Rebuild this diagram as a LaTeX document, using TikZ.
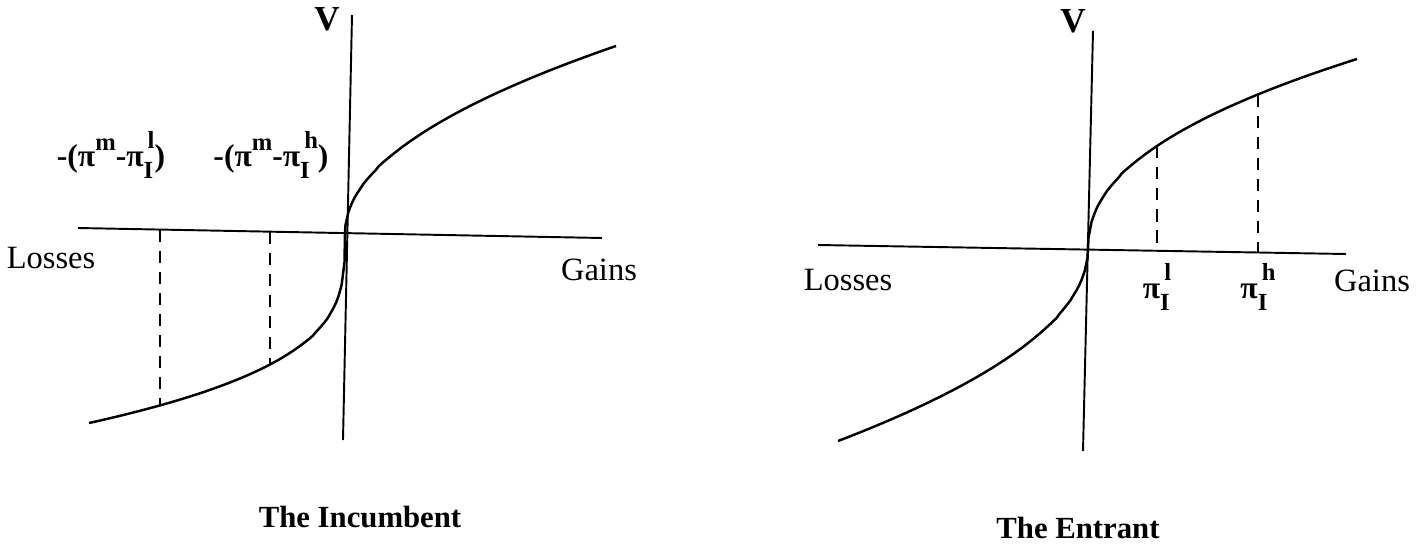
\documentclass[tikz,border=0pt]{standalone}
\usepackage{fontspec}
\setmainfont{Liberation Serif}
\usetikzlibrary{positioning}
\newcommand{\scr}{\fontsize{14}{15}\selectfont}
\newcommand{\piI}[1]{π\rlap{\raisebox{-0.38em}{\scr I}}\raisebox{0.55em}{\scr\,#1}}

\begin{document}
\begin{tikzpicture}[x=0.02cm, y=-0.02cm,
    every node/.style = {inner sep=0pt},
    axis/.style = {line width=1.1pt},
    curve/.style = {line width=1.4pt},
    guide/.style = {line width=0.8pt, dash pattern=on 7pt off 5pt},
    side/.style = {font=\fontsize{18.5}{20}\selectfont},
    vlab/.style = {font=\fontsize{20}{22}\selectfont\bfseries},
    title/.style = {font=\fontsize{17.5}{20}\selectfont\bfseries},
    pilab/.style = {font=\fontsize{18}{20}\selectfont\bfseries}
    ]
    \useasboundingbox (0,0) rectangle (1424,551);

    % The Incumbent
    \coordinate (O1) at (345,233);
    \coordinate (V1top) at (352,15);
    \coordinate (V1bot) at (343,440);
    \coordinate (H1l) at (78,228);
    \coordinate (H1r) at (602,238);
    \draw[axis] (V1top) -- (V1bot);
    \draw[axis] (H1l) -- (H1r);
    \begin{scope}[shift={(O1)}]
      \draw[curve] plot[domain=256:0.5, samples=90] ({-\x}, {190*(\x/256)^0.3})
        -- (0,0) -- plot[domain=0.5:271, samples=90] (\x, {-187*(\x/271)^0.5});
      \coordinate (a1) at (-185,{190*(185/256)^0.3});
      \coordinate (b1) at (-75,{190*(75/256)^0.3});
      \coordinate (a1x) at (-185,-3.4);
      \coordinate (b1x) at (-75,-1.4);
    \end{scope}
    \draw[guide] (a1x) -- (a1);
    \draw[guide] (b1x) -- (b1);

    \node[vlab] (V1) at (327,19) {V};
    \node[side] (loss1) at (51,258) {Losses};
    \node[side] (gain1) at (599,270) {Gains};
    \node[pilab] (pl1) at (111,155) {-(π\raisebox{0.5em}{\scr m}-\piI{l})};
    \node[pilab] (ph1) at (271,155) {-(π\raisebox{0.5em}{\scr m}-\piI{h})};
    \node[title] (inc) at (360,517) {The Incumbent};

    % The Entrant
    \coordinate (O2) at (1088,249);
    \coordinate (V2top) at (1093,31);
    \coordinate (V2bot) at (1083,451);
    \coordinate (H2l) at (818,245);
    \coordinate (H2r) at (1346,254);
    \draw[axis] (V2top) -- (V2bot);
    \draw[axis] (H2l) -- (H2r);
    \begin{scope}[shift={(O2)}]
      \draw[curve] plot[domain=250:0.5, samples=90] ({-\x}, {192*(\x/250)^0.5})
        -- (0,0) -- plot[domain=0.5:269, samples=90] (\x, {-190*(\x/269)^0.45});
      \coordinate (a2) at (69,{-190*(69/269)^0.45});
      \coordinate (b2) at (170,{-190*(170/269)^0.45});
      \coordinate (a2x) at (69,1.2);
      \coordinate (b2x) at (170,2.9);
    \end{scope}
    \draw[guide] (a2) -- (a2x);
    \draw[guide] (b2) -- (b2x);

    \node[vlab] (V2) at (1073,21) {V};
    \node[side] (loss2) at (848,280) {Losses};
    \node[side] (gain2) at (1372,281) {Gains};
    \node[pilab] (pl2) at (1157,287) {\piI{l}};
    \node[pilab] (ph2) at (1258,287) {\piI{h}};
    \node[title] (ent) at (1078,528) {The Entrant};
\end{tikzpicture}
\end{document}
